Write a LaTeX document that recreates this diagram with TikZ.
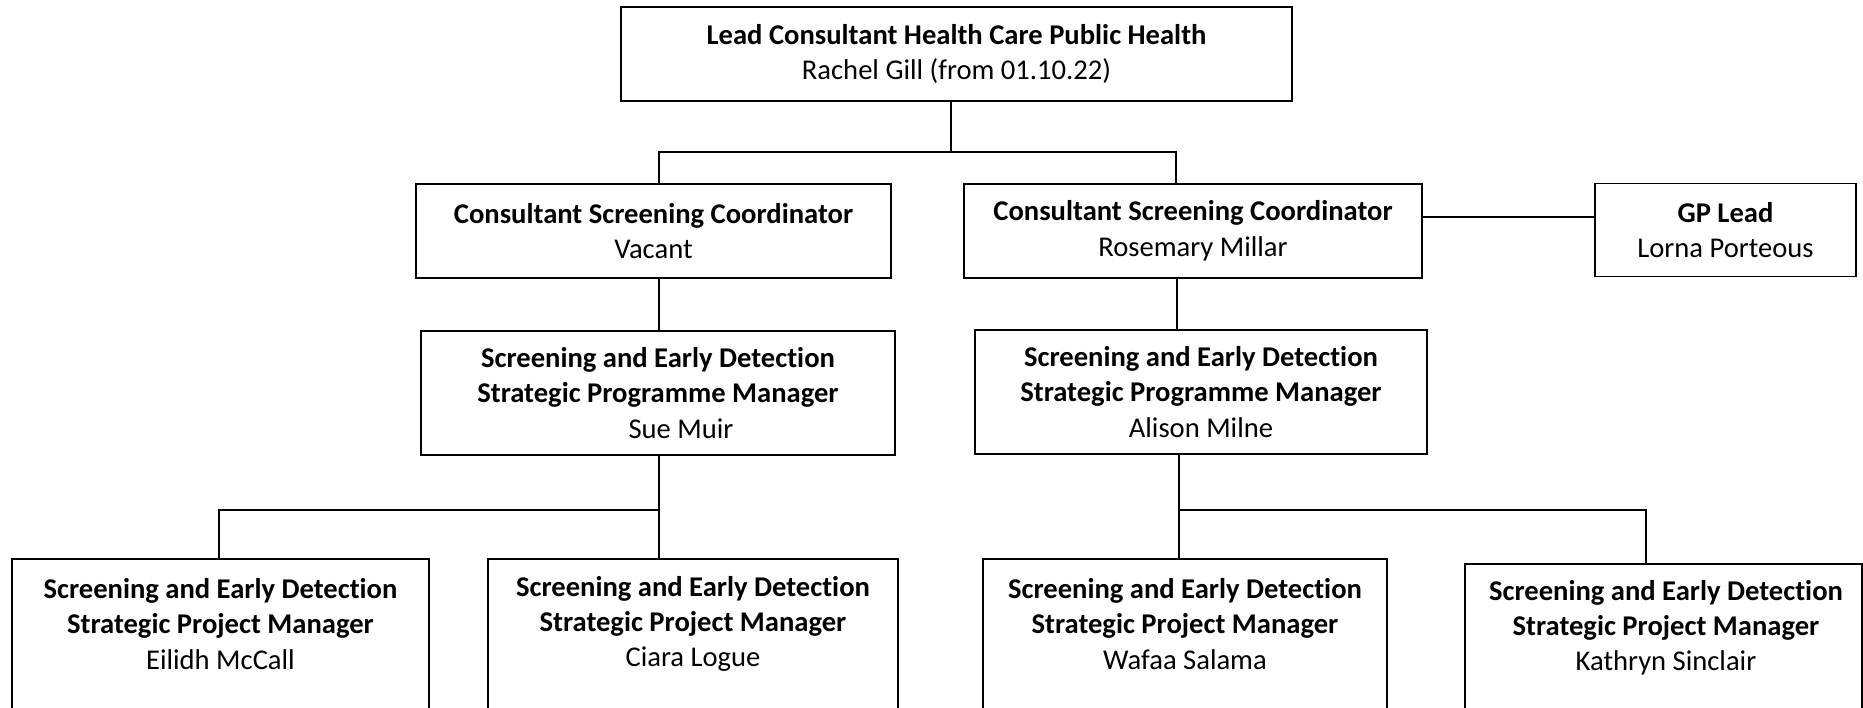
\documentclass[tikz,border=0pt]{standalone}
\usepackage{fontspec}
\setmainfont{Carlito}[Ligatures=CommonOff]
\begin{document}
\begin{tikzpicture}[x=0.5pt,y=-0.5pt,
  box/.style={draw=black,line width=0.8pt,rectangle,inner sep=0pt,align=center,
    font={\fontsize{14.3pt}{17.8pt}\selectfont}},
  txt/.style={inner sep=0pt,align=center,font={\fontsize{14.3pt}{17.6pt}\selectfont}},
  link/.style={draw=black,line width=0.6pt}]
\clip (0,0) rectangle (1863,707);
\useasboundingbox (0,0) rectangle (1863,707);
% row 1
\node[box,minimum width=335.5pt,minimum height=47pt] (top) at (956.5,54)
  {\textbf{Lead Consultant Health Care Public Health}\\Rachel Gill (from 01.10.22)};
% row 2
\node[box,minimum width=237.5pt,minimum height=47pt] (csL) at (653.5,231)
  {\textbf{Consultant Screening Coordinator}\\Vacant};
\node[box,minimum width=229pt,minimum height=47pt] (csR) at (1193,231)
  {\textbf{Consultant Screening Coordinator}\\Rosemary Millar};
\node[box,minimum width=130.5pt,minimum height=46.5pt] (gp) at (1725.5,230)
  {\textbf{GP Lead}\\Lorna Porteous};
% row 3
\node[box,minimum width=237pt,minimum height=62pt] (pmL) at (658,393)
  {\textbf{Screening and Early Detection}\\\textbf{Strategic Programme Manager}\\\hspace*{23pt}Sue Muir};
\node[box,minimum width=226pt,minimum height=62pt] (pmR) at (1201,392)
  {\textbf{Screening and Early Detection}\\\textbf{Strategic Programme Manager}\\Alison Milne};
% row 4
\node[box,anchor=north,minimum width=208.5pt,minimum height=100pt] (b1) at (220.5,558) {};
\node[box,anchor=north,minimum width=205pt,minimum height=100pt] (b2) at (693,558) {};
\node[box,anchor=north,minimum width=202pt,minimum height=100pt] (b3) at (1185,558) {};
\node[box,anchor=north,minimum width=198.5pt,minimum height=100pt] (b4) at (1663.5,563) {};
\node[txt] (t1) at (220.5,624)
  {\textbf{Screening and Early Detection}\\\textbf{Strategic Project Manager}\\Eilidh McCall};
\node[txt] (t2) at (693,624)
  {\textbf{Screening and Early Detection}\\\textbf{Strategic Project Manager}\\Ciara Logue};
\node[txt] (t3) at (1185,624)
  {\textbf{Screening and Early Detection}\\\textbf{Strategic Project Manager}\\Wafaa Salama};
\node[txt] (t4) at (1666,628)
  {\textbf{Screening and Early Detection}\\\textbf{Strategic Project Manager}\\Kathryn Sinclair};
% junction coordinates
\coordinate (j0) at (951,152);
\coordinate (jL) at (659,152);
\coordinate (jR) at (1176,152);
\coordinate (kL) at (659,510);
\coordinate (kLL) at (219,510);
\coordinate (kR) at (1179,510);
\coordinate (kRR) at (1647,510);
% connectors
\draw[link] (j0 |- top.south) -- (j0);
\draw[link] (jL |- csL.north) -- (jL) -- (jR) -- (jR |- csR.north);
\draw[link] (csR.east |- 0,217) -- (gp.west |- 0,217);
\draw[link] (jL |- csL.south) -- (jL |- pmL.north);
\draw[link] (1177,0 |- csR.south) -- (1177,0 |- pmR.north);
\draw[link] (kL |- pmL.south) -- (kL |- b2.north);
\draw[link] (kLL |- b1.north) -- (kLL) -- (kL);
\draw[link] (kR |- pmR.south) -- (kR |- b3.north);
\draw[link] (kR) -- (kRR);
\draw[link] (1646,510) -- (1646,0 |- b4.north);
\end{tikzpicture}
\end{document}
